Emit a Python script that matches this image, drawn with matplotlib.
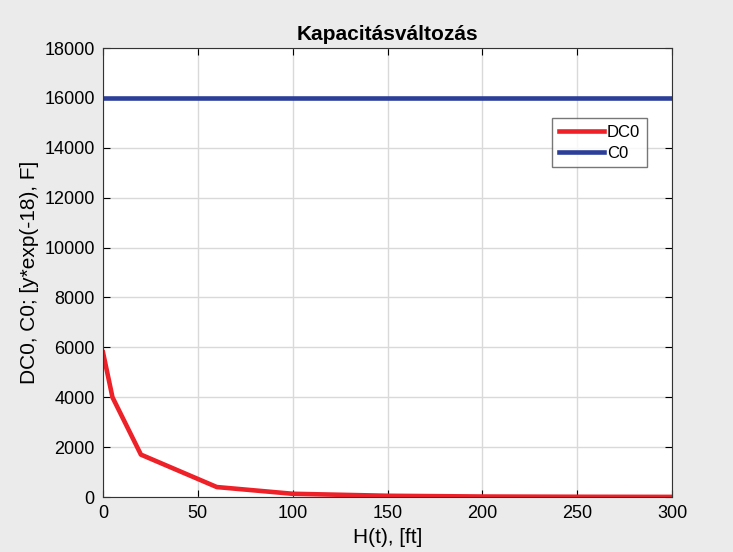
import matplotlib
matplotlib.use("Agg")
import matplotlib.pyplot as plt

h_ft = [0, 5, 20, 60, 100, 150, 200, 250, 300]
dc0 = [5800, 4000, 1700, 400, 130, 50, 20, 10, 5]
c0_x = [0, 300]
c0 = [16000, 16000]
xticks = [0, 50, 100, 150, 200, 250, 300]
yticks = [0, 2000, 4000, 6000, 8000, 10000, 12000, 14000, 16000, 18000]

plt.rcParams['font.family'] = ['Liberation Sans', 'DejaVu Sans']
fig = plt.figure(figsize=(7.33, 5.52), dpi=100, facecolor='#ebebeb')
ax = fig.add_axes([0.1405, 0.0996, 0.7763, 0.8134])
ax.plot(h_ft, dc0, color='#ee2028', lw=3.3, label='DC0')
ax.plot(c0_x, c0, color='#2b3e98', lw=3.3, label='C0')
ax.set_xlim(0, 300)
ax.set_ylim(0, 18000)
ax.set_xticks(xticks)
ax.set_yticks(yticks)
ax.grid(True, color='#d9d9d9', lw=1)
ax.tick_params(direction='in', labelsize=13, length=5, top=True, right=True, pad=6)
for s in ax.spines.values():
    s.set_color('#333333')
ax.set_title('Kapacitásváltozás', fontsize=15, fontweight='bold', pad=6)
ax.set_xlabel('H(t), [ft]', fontsize=15)
ax.set_ylabel('DC0, C0; [y*exp(-18), F]', fontsize=15)
leg = ax.legend(loc='upper left', bbox_to_anchor=(0.789, 0.844), fontsize=12,
                frameon=True, fancybox=False, edgecolor='#555555', borderaxespad=0,
                handlelength=2.7, borderpad=0.4, labelspacing=0.35, handletextpad=0.2)
leg.get_frame().set_linewidth(1)
fig.savefig('out.png', dpi=100, facecolor=fig.get_facecolor())
